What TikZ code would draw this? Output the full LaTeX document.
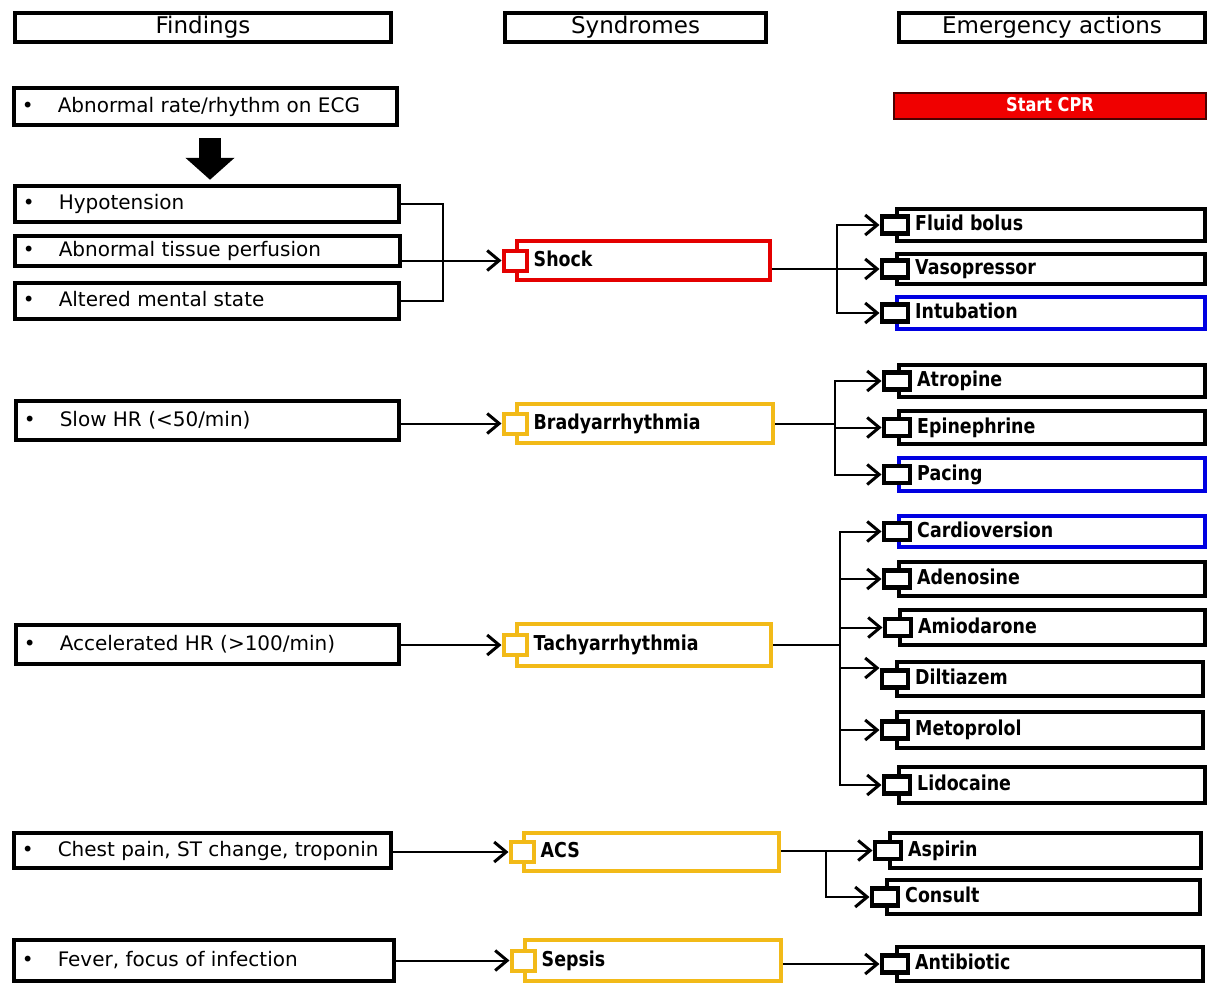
\documentclass[tikz,border=0pt]{standalone}
\usepackage{fontspec}
\setmainfont{DejaVu Sans}
\newfontfamily\labfont{DejaVu Sans}[FakeStretch=0.85]
\usetikzlibrary{arrows.meta,fit,calc}
\definecolor{cred}{RGB}{228,0,0}
\definecolor{cgold}{RGB}{242,186,24}
\definecolor{cblue}{RGB}{0,0,225}
\definecolor{cprfill}{RGB}{240,0,0}
\begin{document}
\begin{tikzpicture}[x=1pt,y=-1pt,
  hdr/.style={draw, line width=3.5, inner sep=0},
  htxt/.style={inner sep=0, text height=17, text depth=5, font=\fontsize{23}{27}\selectfont},
  fbox/.style={draw, line width=4.5, inner sep=0},
  ftxt/.style={anchor=west, inner sep=0, text height=15, text depth=4, font=\fontsize{20}{24}\selectfont},
  sbox/.style={draw, line width=4, inner sep=0},
  abox/.style={draw, line width=4.5, inner sep=0},
  ssq/.style={draw, fill=white, line width=4, minimum width=23, minimum height=20, inner sep=0},
  asq/.style={draw=black, fill=white, line width=4.5, minimum width=26, minimum height=17, inner sep=0},
  ltxt/.style={anchor=west, inner sep=0, text height=15, text depth=4, font=\labfont\bfseries\fontsize{20.5}{24}\selectfont},
  conn/.style={draw, line width=2},
  arr/.style={conn, -{Straight Barb[length=12pt,width=20pt,line width=3pt]}},
]
\fill[white] (0,0) rectangle (1209,983);
\useasboundingbox (0,0) rectangle (1209,983);

% headers
\node[hdr, fit={(15,13) (391,42)}] (hf) {};
\node[htxt] (hft) at (hf.center) {Findings};
\node[hdr, fit={(505,13) (766,42)}] (hs) {};
\node[htxt] (hst) at (hs.center) {Syndromes};
\node[hdr, fit={(899,13) (1205,42)}] (he) {};
\node[htxt] (het) at (he.center) {Emergency actions};

% start CPR
\node[draw=black!70!red, line width=2, fill=cprfill, fit={(894,93) (1206,119)}, inner sep=0] (cpr) {};
\node[inner sep=0, text height=14, text depth=4, text=white, font=\labfont\bfseries\fontsize{19}{22}\selectfont] (cprt) at (cpr.center) {Start CPR};

% findings
\node[fbox, fit={(14,88) (397,125)}] (f1) {};
\node[ftxt] (f1t) at ($(f1.west)+(10,0)$) {\textbullet\hspace{24pt}Abnormal rate/rhythm on ECG};
\node[fbox, fit={(15,186) (399,222)}] (f2) {};
\node[ftxt] (f2t) at ($(f2.west)+(10,0)$) {\textbullet\hspace{24pt}Hypotension};
\node[fbox, fit={(15,236) (400,266)}] (f3) {};
\node[ftxt] (f3t) at ($(f3.west)+(10,0)$) {\textbullet\hspace{24pt}Abnormal tissue perfusion};
\node[fbox, fit={(15,283) (399,319)}] (f4) {};
\node[ftxt] (f4t) at ($(f4.west)+(10,0)$) {\textbullet\hspace{24pt}Altered mental state};
\node[fbox, fit={(16,401) (399,440)}] (f5) {};
\node[ftxt] (f5t) at ($(f5.west)+(10,0)$) {\textbullet\hspace{24pt}Slow HR (<50/min)};
\node[fbox, fit={(16,625) (399,664)}] (f6) {};
\node[ftxt] (f6t) at ($(f6.west)+(10,0)$) {\textbullet\hspace{24pt}Accelerated HR (>100/min)};
\node[fbox, fit={(14,833) (391,868)}] (f7) {};
\node[ftxt] (f7t) at ($(f7.west)+(10,0)$) {\textbullet\hspace{24pt}Chest pain, ST change, troponin};
\node[fbox, fit={(14,940) (394,981)}] (f8) {};
\node[ftxt] (f8t) at ($(f8.west)+(10,0)$) {\textbullet\hspace{24pt}Fever, focus of infection};

% thick arrow
\coordinate (ax) at (210,0);
\draw[line width=22, -{Triangle[length=22pt,width=48pt]}] ($(f1.south -| ax)+(0,11)$) -- ($(f2.north -| ax)+(0,-4)$);

% syndromes
\node[sbox, draw=cred, fit={(517,241) (770,280)}] (shock) {};
\node[ssq, draw=cred] (shocksq) at (shock.west) {};
\node[ltxt] (shockt) at ($(shocksq.east)+(5,0)$) {Shock};
\node[sbox, draw=cgold, fit={(517,404) (773,443)}] (brady) {};
\node[ssq, draw=cgold] (bradysq) at (brady.west) {};
\node[ltxt] (bradyt) at ($(bradysq.east)+(5,0)$) {Bradyarrhythmia};
\node[sbox, draw=cgold, fit={(517,624) (771,666)}] (tachy) {};
\node[ssq, draw=cgold] (tachysq) at (tachy.west) {};
\node[ltxt] (tachyt) at ($(tachysq.east)+(5,0)$) {Tachyarrhythmia};
\node[sbox, draw=cgold, fit={(524,833) (779,871)}] (acs) {};
\node[ssq, draw=cgold] (acssq) at (acs.west) {};
\node[ltxt] (acst) at ($(acssq.east)+(5,0)$) {ACS};
\node[sbox, draw=cgold, fit={(525,940) (781,981)}] (sepsis) {};
\node[ssq, draw=cgold] (sepsissq) at (sepsis.west) {};
\node[ltxt] (sepsist) at ($(sepsissq.east)+(5,0)$) {Sepsis};

% actions
\node[abox, fit={(897,209) (1205,241)}] (fb) {};
\node[asq] (fbsq) at (fb.west) {};
\node[ltxt] (fbt) at ($(fbsq.east)+(5,0)$) {Fluid bolus};
\node[abox, fit={(897,254) (1205,284)}] (vp) {};
\node[asq] (vpsq) at (vp.west) {};
\node[ltxt] (vpt) at ($(vpsq.east)+(5,0)$) {Vasopressor};
\node[abox, draw=cblue, fit={(897,297) (1205,329)}] (in) {};
\node[asq] (insq) at (in.west) {};
\node[ltxt] (int) at ($(insq.east)+(5,0)$) {Intubation};

\node[abox, fit={(899,365) (1205,397)}] (at) {};
\node[asq] (atsq) at (at.west) {};
\node[ltxt] (att) at ($(atsq.east)+(5,0)$) {Atropine};
\node[abox, fit={(899,411) (1205,444)}] (ep) {};
\node[asq] (epsq) at (ep.west) {};
\node[ltxt] (ept) at ($(epsq.east)+(5,0)$) {Epinephrine};
\node[abox, draw=cblue, fit={(899,458) (1205,491)}] (pa) {};
\node[asq] (pasq) at (pa.west) {};
\node[ltxt] (pat) at ($(pasq.east)+(5,0)$) {Pacing};

\node[abox, draw=cblue, fit={(899,516) (1205,547)}] (cv) {};
\node[asq] (cvsq) at (cv.west) {};
\node[ltxt] (cvt) at ($(cvsq.east)+(5,0)$) {Cardioversion};
\node[abox, fit={(899,562) (1205,596)}] (ad) {};
\node[asq] (adsq) at (ad.west) {};
\node[ltxt] (adt) at ($(adsq.east)+(5,0)$) {Adenosine};
\node[abox, fit={(900,610) (1205,645)}] (am) {};
\node[asq] (amsq) at (am.west) {};
\node[ltxt] (amt) at ($(amsq.east)+(5,0)$) {Amiodarone};
\node[abox, fit={(897,662) (1203,696)}] (di) {};
\node[asq] (disq) at (di.west) {};
\node[ltxt] (dit) at ($(disq.east)+(5,0)$) {Diltiazem};
\node[abox, fit={(897,712) (1203,748)}] (me) {};
\node[asq] (mesq) at (me.west) {};
\node[ltxt] (met) at ($(mesq.east)+(5,0)$) {Metoprolol};
\node[abox, fit={(899,767) (1205,803)}] (li) {};
\node[asq] (lisq) at (li.west) {};
\node[ltxt] (lit) at ($(lisq.east)+(5,0)$) {Lidocaine};

\node[abox, fit={(890,833) (1201,868)}] (as) {};
\node[asq] (assq) at (as.west) {};
\node[ltxt] (ast) at ($(assq.east)+(5,0)$) {Aspirin};
\node[abox, fit={(887,880) (1200,914)}] (co) {};
\node[asq] (cosq) at (co.west) {};
\node[ltxt] (cot) at ($(cosq.east)+(5,0)$) {Consult};
\node[abox, fit={(897,947) (1203,981)}] (ab) {};
\node[asq] (absq) at (ab.west) {};
\node[ltxt] (abt) at ($(absq.east)+(5,0)$) {Antibiotic};

% findings -> syndromes
\coordinate (xk) at (443,0);
\draw[conn] (f2.east) -| (xk |- f4.east) -- (f4.east);
\draw[arr] (f3.east |- shocksq.west) -- (shocksq.west);
\draw[arr] (f5.east |- bradysq.west) -- (bradysq.west);
\draw[arr] (f6.east |- tachysq.west) -- (tachysq.west);
\draw[arr] (f7.east |- acssq.west) -- (acssq.west);
\draw[arr] (f8.east |- sepsissq.west) -- (sepsissq.west);

% shock -> actions
\coordinate (xs) at (837,0);
\draw[conn] (shock.east |- vpsq.west) -- (xs |- vpsq.west);
\draw[arr] (xs |- vpsq.west) -- (vpsq.west);
\draw[arr] (xs |- vpsq.west) |- (fbsq.west);
\draw[arr] (xs |- vpsq.west) |- (insq.west);

% brady -> actions
\coordinate (xb) at (835,0);
\draw[conn] (brady.east) -- (xb |- brady.east);
\draw[arr] (xb |- brady.east) |- (atsq.west);
\draw[arr] (xb |- brady.east) |- (epsq.west);
\draw[arr] (xb |- brady.east) |- (pasq.west);

% tachy -> actions
\coordinate (xt) at (840,0);
\draw[conn] (tachy.east) -- (xt |- tachy.east);
\draw[arr] (xt |- tachy.east) |- (cvsq.west);
\draw[arr] (xt |- tachy.east) |- (adsq.west);
\draw[arr] (xt |- tachy.east) |- (amsq.west);
\draw[arr] (xt |- tachy.east) |- ($(disq.west)+(0,-11)$);
\draw[arr] (xt |- tachy.east) |- (mesq.west);
\draw[arr] (xt |- tachy.east) |- (lisq.west);

% acs -> actions
\coordinate (xa) at (826,0);
\draw[arr] (acs.east |- assq.west) -- (assq.west);
\draw[arr] (xa |- assq.west) |- (cosq.west);

% sepsis -> antibiotic
\draw[arr] (sepsis.east |- absq.west) -- (absq.west);
\end{tikzpicture}
\end{document}
